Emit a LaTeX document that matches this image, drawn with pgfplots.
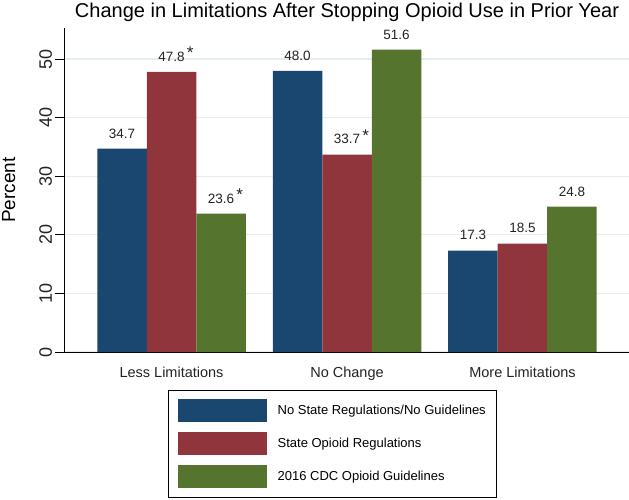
\documentclass[border=0pt]{standalone}
\usepackage{fontspec}
\setmainfont{Liberation Sans}
\usepackage{pgfplots}
\pgfplotsset{compat=1.18}
\definecolor{sNavy}{RGB}{26,71,111}
\definecolor{sMaroon}{RGB}{144,53,59}
\definecolor{sGreen}{RGB}{85,117,47}
\definecolor{gridc}{RGB}{228,238,242}
\definecolor{lblc}{RGB}{35,35,35}
\newcommand{\st}{\rlap{\,\raisebox{2.5pt}{\fontsize{17}{17}\selectfont *}}}
\pgfplotsset{mylegend/.style={legend image code/.code={\fill[##1,draw=none] (0pt,-11.5pt) rectangle (89pt,11.5pt);}}}
\begin{document}
\begin{tikzpicture}
\begin{axis}[
  scale only axis, width=565pt, height=324pt,
  xmin=-0.61, xmax=2.61, ymin=0, ymax=55.3,
  ybar=0pt, bar width=49.5pt,
  axis x line*=bottom, axis y line*=left,
  axis line style={line width=1pt, black},
  clip=false,
  /pgf/number format/assume math mode=true,
  xtick={0,1,2}, xticklabels={Less Limitations, No Change, More Limitations},
  x tick style={draw=none},
  ytick={0,10,20,30,40,50},
  y tick style={line width=1pt, black},
  tick align=outside, major tick length=9pt,
  ymajorgrids, grid style={gridc, line width=1.3pt},
  yticklabel style={rotate=90, anchor=south, font=\fontsize{18}{18}\selectfont, text=lblc},
  xticklabel style={font=\fontsize{14.5}{14.5}\selectfont, text=lblc, yshift=-2pt},
  ylabel={Percent},
  ylabel style={font=\fontsize{19}{19}\selectfont, at={(axis description cs:-0.099,0.5)}, anchor=center},
  title={Change in Limitations After Stopping Opioid Use in Prior Year},
  title style={at={(axis description cs:0.5,1)}, anchor=base, yshift=5pt, font=\fontsize{20}{20}\selectfont},
  nodes near coords, point meta=explicit symbolic,
  every node near coord/.append style={font=\fontsize{13.5}{13.5}\selectfont, text=lblc, anchor=south, yshift=7pt},
  legend style={at={(axis description cs:0.184,-0.117)}, anchor=north west, draw=black, line width=1pt,
    inner xsep=9pt, inner ysep=9pt, row sep=10pt, column sep=8.7pt,
    font=\fontsize{13}{13}\selectfont, cells={anchor=west}},
  legend cell align=left,
]
\addplot[fill=sNavy, draw=none, mylegend] coordinates {(0,34.7) [34.7] (1,48.0) [48.0] (2,17.3) [17.3]};
\addplot[fill=sMaroon, draw=none, mylegend] coordinates {(0,47.8) [47.8\st] (1,33.7) [33.7\st] (2,18.5) [18.5]};
\addplot[fill=sGreen, draw=none, mylegend] coordinates {(0,23.6) [23.6\st] (1,51.6) [51.6] (2,24.8) [24.8]};
\legend{No State Regulations/No Guidelines, State Opioid Regulations, 2016 CDC Opioid Guidelines}
\end{axis}
\pgfresetboundingbox
\path[use as bounding box] (-64.5pt,-147pt) rectangle (564.5pt,352pt);
\end{tikzpicture}
\end{document}
